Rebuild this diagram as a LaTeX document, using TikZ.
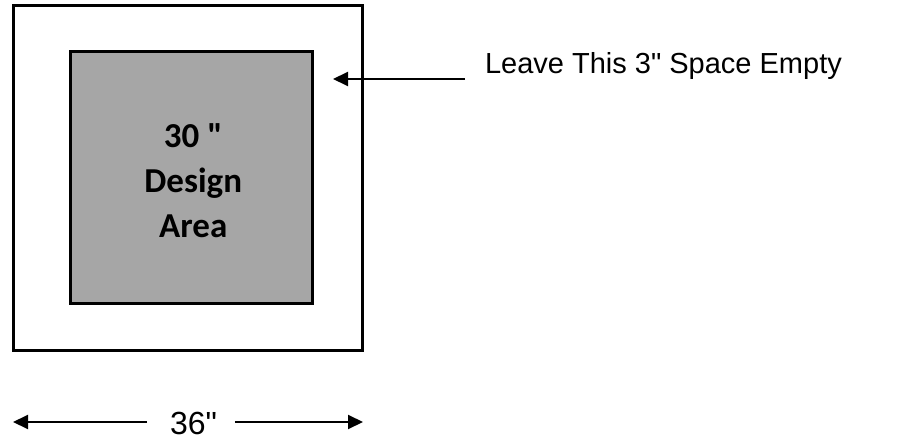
\documentclass[tikz,border=0pt]{standalone}
\usepackage{fontspec}
\setmainfont{Liberation Sans}[Ligatures=TeXOff]
\newfontfamily\calibri{Carlito}
\usetikzlibrary{arrows.meta,positioning}

\begin{document}
\begin{tikzpicture}[x=1pt, y=-1pt, line width=2pt, >={Triangle[length=15pt,width=14pt]}]
\tikzstyle{every node} = [inner sep=0pt, outer sep=0pt]
\tikzset{square/.style={draw=black, minimum width=#1, minimum height=#1}}
\useasboundingbox (0,0) rectangle (899,438);
\node (outer) [square=345pt, minimum width=349pt, line width=3.5pt] at (188,178) {};
\node (inner) [square=252pt, minimum width=241.5pt, line width=3pt, fill={rgb,255:red,166;green,166;blue,166}] at (191.25,177.5) {};
\node (design) [align=center, font=\calibri\bfseries\fontsize{35}{45}\selectfont, xshift=2pt, yshift=-3pt] at (inner.center) {30 "\\Design\\Area};
\node (note) [anchor=base west, font=\fontsize{29}{34}\selectfont] at (485,74) {Leave This 3" Space Empty};
\coordinate (gap) at (333,79);
\draw[->] (note.west |- gap) ++(-20,0) -- (gap);
\node (width) [anchor=base, font=\fontsize{32}{38}\selectfont] at (193.5,434) {36"};
\coordinate (wl) at (13,422);
\coordinate (wr) at (363,422);
\draw[->] (width.west |- wl) ++(-23,0) -- (wl);
\draw[->] (width.east |- wr) ++(18,0) -- (wr);
\end{tikzpicture}
\end{document}
